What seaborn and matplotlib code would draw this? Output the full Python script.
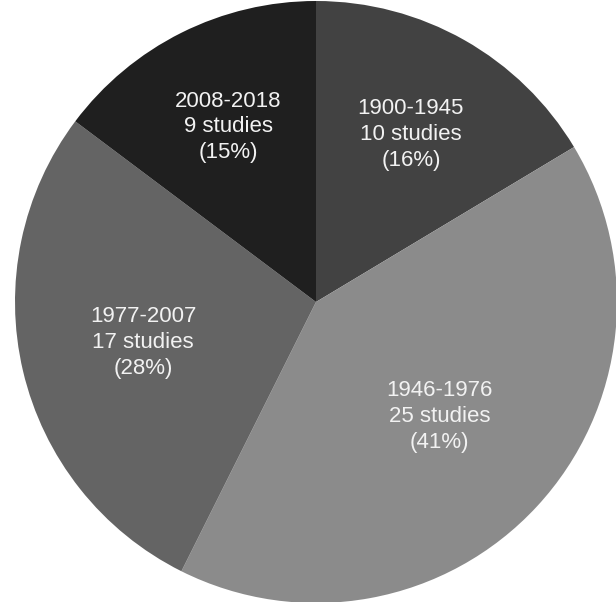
import numpy as np
import matplotlib
matplotlib.use("Agg")
import matplotlib.pyplot as plt
import seaborn as sns

# study counts per period
periods = ["1900-1945", "1946-1976", "1977-2007", "2008-2018"]
studies = [10, 25, 17, 9]
percents = [16, 41, 28, 15]

slice_colors = ["#424242", "#8b8b8b", "#646464", "#1f1f1f"]
label_radius = [0.64, 0.56, 0.59, 0.65]  # how far out each label sits

sns.set_style("white")
plt.rcParams['font.family'] = ['Liberation Sans', 'DejaVu Sans']

fig = plt.figure(figsize=(6.16, 6.02), dpi=100)
ax = fig.add_axes([0, 0, 1, 1])

wedges, _ = ax.pie(studies, colors=slice_colors, startangle=90, counterclock=False,
                   radius=1.0, wedgeprops=dict(linewidth=0))

for w, p, n, pc, r in zip(wedges, periods, studies, percents, label_radius):
    ang = np.deg2rad((w.theta1 + w.theta2) / 2)
    ax.text(r * np.cos(ang), r * np.sin(ang), f"{p}\n{n} studies\n({pc}%)",
            ha="center", va="center", color="#f2f2f2", fontsize=16, linespacing=1.3)

# center of pie at about (316, 302) px, radius ~301 px
ax.set_xlim(-316 / 301, 300 / 301)
ax.set_ylim(-300 / 301, 302 / 301)
ax.set_aspect("auto")
ax.axis("off")

fig.savefig("out.png", dpi=100, facecolor="white")
